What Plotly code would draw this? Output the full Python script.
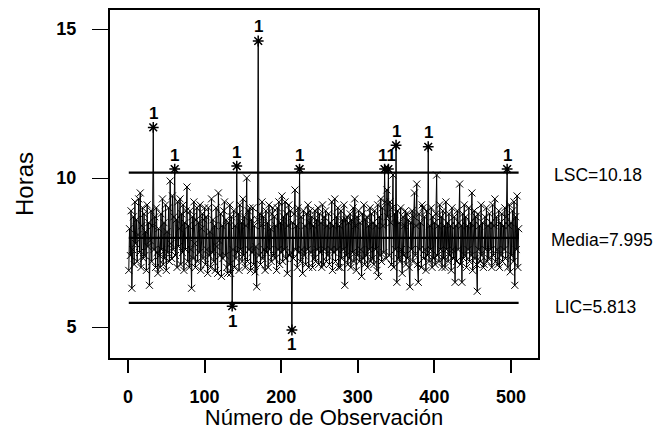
import plotly.graph_objects as go

horas = [
    6.9, 8.3, 7.4, 8.9, 6.3, 7.6, 8.7, 7.1, 9.2, 7.8,
    8.6, 7.2, 8.1, 9.3, 7.5, 9.5, 7.0, 8.4, 9.0, 7.3,
    8.8, 7.4, 8.2, 6.9, 9.1, 7.7, 8.5, 6.4, 7.9, 8.9,
    7.2, 8.4, 11.7, 7.6, 8.7, 7.0, 9.0, 7.5, 6.8, 8.3,
    7.4, 7.0, 8.8, 7.6, 9.3, 7.1, 8.5, 7.3, 9.1, 6.9,
    8.2, 7.5, 9.0, 7.2, 9.9, 7.8, 7.3, 9.4, 7.6, 8.7,
    10.3, 7.4, 8.6, 7.0, 9.2, 7.7, 8.3, 9.3, 7.1, 8.8,
    7.5, 9.1, 6.9, 8.5, 7.6, 8.9, 9.7, 7.2, 8.4, 7.0,
    8.9, 7.6, 6.3, 8.7, 7.3, 9.2, 7.8, 7.0, 8.6, 9.0,
    7.2, 8.5, 7.5, 9.1, 6.9, 8.3, 8.8, 7.3, 8.6, 9.0,
    7.1, 8.7, 7.6, 6.8, 9.0, 7.4, 8.2, 7.0, 9.3, 7.5,
    8.6, 7.2, 8.4, 6.9, 9.0, 7.7, 6.8, 9.5, 7.9, 7.4,
    8.8, 6.7, 8.4, 7.3, 8.9, 9.2, 7.4, 8.6, 7.0, 6.8,
    8.5, 7.1, 9.1, 6.8, 8.7, 5.7, 7.6, 8.9, 7.0, 8.4,
    7.3, 10.4, 7.5, 8.8, 6.9, 9.1, 7.6, 8.5, 7.2, 9.3,
    7.4, 8.7, 7.0, 8.4, 10.0, 7.2, 8.9, 7.6, 9.0, 6.9,
    8.6, 7.5, 9.0, 7.1, 8.4, 6.85, 7.7, 6.35, 8.6, 14.6,
    7.4, 8.8, 7.1, 8.4, 9.2, 7.3, 8.7, 7.6, 6.9, 8.9,
    7.5, 8.5, 7.0, 9.1, 7.6, 8.3, 7.2, 8.8, 9.0, 7.4,
    8.7, 7.3, 8.4, 6.9, 9.0, 7.6, 9.2, 7.1, 8.5, 7.5,
    9.4, 7.2, 8.7, 7.6, 9.2, 7.3, 8.8, 6.8, 8.4, 9.1,
    7.4, 8.9, 7.5, 4.9, 8.5, 7.3, 8.8, 9.6, 7.6, 8.4,
    7.0, 9.0, 7.5, 10.3, 7.2, 8.7, 7.6, 6.8, 8.9, 7.4,
    8.4, 7.1, 8.8, 7.6, 9.1, 7.0, 8.5, 8.9, 7.5, 8.7,
    7.0, 8.4, 7.3, 8.9, 7.2, 8.6, 7.6, 9.0, 7.1, 8.8,
    7.5, 8.5, 7.0, 9.1, 7.1, 8.7, 7.6, 8.9, 7.2, 8.4,
    7.4, 8.8, 7.1, 8.5, 7.6, 9.2, 6.9, 8.4, 7.5, 9.3,
    7.2, 8.7, 7.6, 9.0, 7.0, 8.4, 7.0, 8.9, 7.3, 8.6,
    7.6, 9.1, 6.4, 8.6, 7.4, 8.7, 7.1, 8.5, 7.3, 8.8,
    7.0, 8.6, 7.5, 9.0, 7.2, 9.3, 8.4, 6.9, 8.7, 7.4,
    8.9, 7.2, 8.5, 7.6, 6.7, 8.8, 7.3, 9.1, 7.1, 8.6,
    7.4, 8.7, 7.0, 8.4, 7.6, 9.0, 7.2, 8.8, 7.3, 8.5,
    7.1, 8.9, 7.6, 8.4, 6.9, 9.1, 6.7, 8.7, 7.4, 9.3,
    7.2, 9.0, 8.4, 7.5, 10.3, 9.2, 7.3, 9.6, 8.7, 10.3,
    7.4, 9.2, 8.5, 7.1, 9.0, 10.1, 7.0, 8.8, 7.6, 11.1,
    6.5, 8.9, 7.3, 8.5, 7.2, 9.0, 7.6, 6.8, 8.7, 7.4,
    8.4, 8.9, 7.1, 8.8, 7.3, 8.6, 7.0, 6.35, 8.5, 7.6,
    8.9, 7.2, 8.7, 9.5, 7.4, 8.4, 9.8, 7.1, 6.5, 8.8,
    7.6, 8.5, 7.0, 9.1, 9.0, 7.3, 8.7, 7.6, 6.9, 8.9,
    7.4, 11.05, 7.2, 8.4, 7.6, 9.0, 7.0, 8.7, 7.3, 8.5,
    7.1, 8.8, 10.1, 7.4, 8.4, 7.2, 9.1, 7.6, 8.7, 7.0,
    8.9, 7.3, 8.4, 7.0, 9.2, 7.6, 8.5, 7.2, 8.8, 7.4,
    8.4, 6.9, 9.0, 7.6, 7.3, 8.7, 6.5, 8.4, 7.2, 8.9,
    7.6, 8.5, 9.8, 7.1, 8.4, 6.5, 8.8, 7.3, 9.1, 7.4,
    8.7, 7.0, 8.4, 7.6, 9.0, 7.2, 8.5, 7.4, 9.5, 6.9,
    8.4, 8.9, 7.3, 8.7, 7.1, 6.2, 8.8, 7.6, 8.4, 7.2,
    9.1, 7.4, 8.5, 7.0, 7.1, 8.7, 7.6, 9.0, 7.2, 8.4,
    7.3, 8.8, 7.6, 8.5, 7.0, 9.1, 7.4, 8.4, 9.3, 7.2,
    8.7, 7.6, 7.1, 8.9, 7.0, 8.5, 7.4, 8.8, 7.2, 8.4,
    7.6, 9.0, 7.3, 8.7, 10.3, 7.0, 8.4, 9.1, 6.85, 8.5,
    7.4, 8.9, 7.2, 9.2, 6.4, 8.7, 7.6, 9.4, 7.0, 8.3,
]
obs = list(range(1, len(horas) + 1))

LSC = 10.18
MEDIA = 7.995
LIC = 5.813
x_ticks = [0, 100, 200, 300, 400, 500]
y_ticks = [5, 10, 15]

out_hi = [(o, v) for o, v in zip(obs, horas) if v > LSC]
out_lo = [(o, v) for o, v in zip(obs, horas) if v < LIC]


def group_labels(points):
    """Merge labels of neighbouring flagged points into one text ("11")."""
    groups = []
    for o, v in points:
        if groups and o - groups[-1][-1][0] <= 6 and abs(v - groups[-1][-1][1]) < 0.4:
            groups[-1].append((o, v))
        else:
            groups.append([(o, v)])
    xs = [sum(p[0] for p in g) / len(g) for g in groups]
    ys = [max(p[1] for p in g) for g in groups]
    txt = ["1" * len(g) for g in groups]
    return xs, ys, txt


fig = go.Figure()

# control limit lines
for val in (LSC, MEDIA, LIC):
    fig.add_trace(go.Scatter(x=[obs[0], obs[-1]], y=[val, val], mode="lines",
                             line=dict(color="black", width=2.2), hoverinfo="skip",
                             showlegend=False))

fig.add_trace(go.Scatter(
    x=obs, y=horas, mode="lines+markers",
    line=dict(color="black", width=1),
    marker=dict(symbol="x-thin-open", size=7, color="black",
                line=dict(color="black", width=1)),
    showlegend=False))

fig.add_trace(go.Scatter(
    x=[p[0] for p in out_hi + out_lo], y=[p[1] for p in out_hi + out_lo], mode="markers",
    marker=dict(symbol="asterisk-open", size=9, color="black",
                line=dict(color="black", width=1.5)),
    showlegend=False))

hx, hy, ht = group_labels(out_hi)
lx, ly, lt = group_labels(out_lo)
lab_font = dict(family="Liberation Sans", size=17, color="black", weight="bold")
for xs_, ys_, ts_, shift in ((hx, hy, ht, 14), (lx, ly, lt, -15)):
    for xv, yv, tv in zip(xs_, ys_, ts_):
        fig.add_annotation(x=xv, y=yv, xref="x", yref="y", text=tv, showarrow=False,
                           yshift=shift, font=lab_font)

for val, lab, xp, ys in ((LSC, "LSC=10.18", 1.033, -2),
                         (MEDIA, "Media=7.995", 1.026, -2),
                         (LIC, "LIC=5.813", 1.035, -4)):
    fig.add_annotation(x=xp, xref="paper", y=val, yref="y", yshift=ys,
                       text=lab, showarrow=False, xanchor="left",
                       font=dict(family="Liberation Sans", size=17.5, color="black"))

fig.update_layout(
    width=665, height=430,
    margin=dict(l=110, r=127, t=10, b=72),
    plot_bgcolor="white", paper_bgcolor="white",
    font=dict(family="Liberation Sans", color="black"),
)
fig.update_xaxes(range=[-23.5, 535.3], tickvals=x_ticks, ticks="outside", ticklen=13,
                 tickwidth=2, tickcolor="black", showline=True, linecolor="black",
                 linewidth=2, mirror=True, showgrid=False, zeroline=False,
                 ticklabelstandoff=8, automargin=False,
                 tickfont=dict(size=18, family="Liberation Sans", color="black", weight="bold"),
                 title=dict(text="Número de Observación", standoff=8,
                            font=dict(size=22, family="Liberation Sans", color="black")))
fig.update_yaxes(range=[3.96, 15.64], tickvals=y_ticks, ticks="outside", ticklen=16,
                 tickwidth=1.2, tickcolor="black", showline=True, linecolor="black",
                 linewidth=2, mirror=True, showgrid=False, zeroline=False,
                 ticklabelstandoff=12, automargin=False,
                 tickfont=dict(size=18, family="Liberation Sans", color="black", weight="bold"),
                 title=dict(text="Horas", standoff=16,
                            font=dict(size=24, family="Liberation Sans", color="black")))

fig.write_html("out.html")
